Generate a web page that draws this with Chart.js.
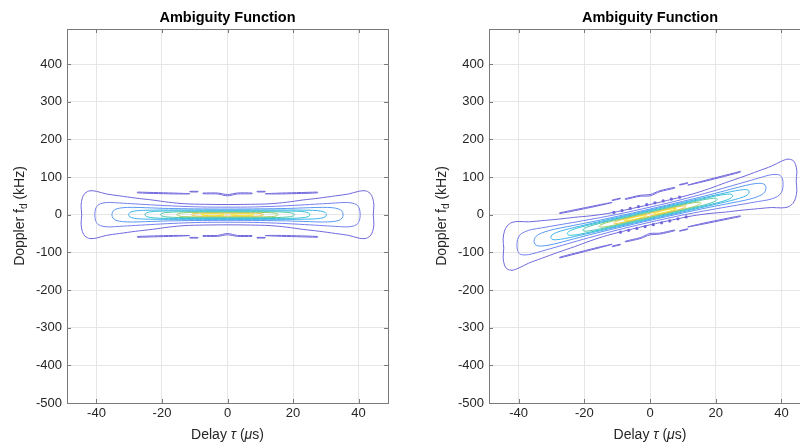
<!DOCTYPE html>
<html>
<head>
<meta charset="utf-8">
<script src="https://cdn.jsdelivr.net/npm/chart.js@4.4.0/dist/chart.umd.min.js"></script>
<style>
  html, body { margin: 0; padding: 0; background: #fff; overflow: hidden; width: 800px; height: 445px; }
  canvas { position: absolute; top: 0; }
  #leftChart { left: 0; }
  #rightChart { left: 420px; }
</style>
</head>
<body>
<canvas id="leftChart" width="400" height="445"></canvas>
<canvas id="rightChart" width="400" height="445"></canvas>
<script>
// axis ranges and ticks (delay in us, doppler in kHz)
const delayRange = [-49, 49];
const dopplerRange = [-500, 493];
const delayTicks = [-40, -20, 0, 20, 40];
const dopplerTicks = [-500, -400, -300, -200, -100, 0, 100, 200, 300, 400];

// parula-ish colours, outermost level first
const levelColors = ['#7068dc', '#7480ee', '#5a98f2', '#3fb2ea', '#35c2d4', '#52c8a8', '#a0cc64', '#efc440', '#f6e422'];

// ---- left plot: unmodulated pulse ----
const leftLevel1 = [[-44.5,0],[-44.7,25],[-44.3,45],[-43.5,57],[-42,63.5],[-40,62],[-37,55],[-33,50],[-28,44],[-23,39],[-18,33],[-13,29],[-7,27.5],[0,27],[7,27.5],[13,29],[18,33],[23,39],[28,44],[33,50],[37,55],[40,62],[42,63.5],[43.5,57],[44.3,45],[44.7,25],[44.5,0],
  [44.7,-25],[44.3,-45],[43.5,-57],[42,-63.5],[40,-62],[37,-55],[33,-50],[28,-44],[23,-39],[18,-33],[13,-29],[7,-27.5],[0,-27],[-7,-27.5],[-13,-29],[-18,-33],[-23,-39],[-28,-44],[-33,-50],[-37,-55],[-40,-62],[-42,-63.5],[-43.5,-57],[-44.3,-45],[-44.7,-25],[-44.5,0]];
const leftLevel2 = [[-40.5,0],[-40.3,15],[-39.5,26],[-38,31],[-36,32.5],[-33,31],[-28,28.5],[-22,25.5],[-15,22.5],[-8,20.5],[0,20],[8,20.5],[15,22.5],[22,25.5],[28,28.5],[33,31],[36,32.5],[38,31],[39.5,26],[40.3,15],[40.5,0],
  [40.3,-15],[39.5,-26],[38,-31],[36,-32.5],[33,-31],[28,-28.5],[22,-25.5],[15,-22.5],[8,-20.5],[0,-20],[-8,-20.5],[-15,-22.5],[-22,-25.5],[-28,-28.5],[-33,-31],[-36,-32.5],[-38,-31],[-39.5,-26],[-40.3,-15],[-40.5,0]];
const leftLevel3 = [[-35.3,0],[-35,9],[-34,15],[-32,18.5],[-29,19.5],[-25,18.5],[-18,16.5],[-10,15.5],[0,15],[10,15.5],[18,16.5],[25,18.5],[29,19.5],[32,18.5],[34,15],[35,9],[35.3,0],
  [35,-9],[34,-15],[32,-18.5],[29,-19.5],[25,-18.5],[18,-16.5],[10,-15.5],[0,-15],[-10,-15.5],[-18,-16.5],[-25,-18.5],[-29,-19.5],[-32,-18.5],[-34,-15],[-35,-9],[-35.3,0]];
const leftLevel4 = [[-30.2,0],[-29.8,6],[-28.5,9.5],[-26,11.5],[-20,12.3],[-10,12.5],[0,12.5],[10,12.5],[20,12.3],[26,11.5],[28.5,9.5],[29.8,6],[30.2,0],
  [29.8,-6],[28.5,-9.5],[26,-11.5],[20,-12.3],[10,-12.5],[0,-12.5],[-10,-12.5],[-20,-12.3],[-26,-11.5],[-28.5,-9.5],[-29.8,-6],[-30.2,0]];
const leftLevel5 = [[-25.2,0],[-24.8,4.5],[-23.5,7.5],[-21,9.3],[-15,10],[-5,10.3],[5,10.3],[15,10],[21,9.3],[23.5,7.5],[24.8,4.5],[25.2,0],
  [24.8,-4.5],[23.5,-7.5],[21,-9.3],[15,-10],[5,-10.3],[-5,-10.3],[-15,-10],[-21,-9.3],[-23.5,-7.5],[-24.8,-4.5],[-25.2,0]];
const leftLevel6 = [[-20.5,0],[-20,3.5],[-18.5,6],[-15,7.5],[-7,8],[0,8],[7,8],[15,7.5],[18.5,6],[20,3.5],[20.5,0],
  [20,-3.5],[18.5,-6],[15,-7.5],[7,-8],[0,-8],[-7,-8],[-15,-7.5],[-18.5,-6],[-20,-3.5],[-20.5,0]];
const leftLevel7 = [[-15.5,0],[-15,3],[-13.5,5],[-10,6],[-4,6.2],[4,6.2],[10,6],[13.5,5],[15,3],[15.5,0],
  [15,-3],[13.5,-5],[10,-6],[4,-6.2],[-4,-6.2],[-10,-6],[-13.5,-5],[-15,-3],[-15.5,0]];
const leftLevel8 = [[-11,0],[-10.5,2.5],[-8.5,4],[-5,4.5],[-2,4.2],[0,3.6],[2,4.2],[5,4.5],[8.5,4],[10.5,2.5],[11,0],
  [10.5,-2.5],[8.5,-4],[5,-4.5],[2,-4.2],[0,-3.6],[-2,-4.2],[-5,-4.5],[-8.5,-4],[-10.5,-2.5],[-11,0]];
const leftLevel9a = [[-8,0],[-7,2],[-4.5,2.7],[-2,2],[-1,0],[-2,-2],[-4.5,-2.7],[-7,-2],[-8,0]];
const leftLevel9b = [[1,0],[2,2],[4.5,2.7],[7,2],[8,0],[7,-2],[4.5,-2.7],[2,-2],[1,0]];
// sidelobes
const leftSlivers = [
  [[-27.5,60],[-21,58.5],[-15,57],[-11.5,55.5],[-15,55],[-21,56],[-27.5,58],[-27.5,60]],
  [[27.5,60],[21,58.5],[15,57],[11.5,55.5],[15,55],[21,56],[27.5,58],[27.5,60]],
  [[-27.5,-60],[-21,-58.5],[-15,-57],[-11.5,-55.5],[-15,-55],[-21,-56],[-27.5,-58],[-27.5,-60]],
  [[27.5,-60],[21,-58.5],[15,-57],[11.5,-55.5],[15,-55],[21,-56],[27.5,-58],[27.5,-60]],
  [[-7.5,57.5],[-3,57.5],[0,53.5],[3,57.5],[7.5,57.5],[7.5,55.5],[3,55],[0,50],[-3,55],[-7.5,55.5],[-7.5,57.5]],
  [[-7.5,-57.5],[-3,-57.5],[0,-53.5],[3,-57.5],[7.5,-57.5],[7.5,-55.5],[3,-55],[0,-50],[-3,-55],[-7.5,-55.5],[-7.5,-57.5]],
  [[-11.5,62],[-9,62],[-9,60.5],[-11.5,60.5],[-11.5,62]],
  [[9,62],[11.5,62],[11.5,60.5],[9,60.5],[9,62]],
  [[-11.5,-62],[-9,-62],[-9,-60.5],[-11.5,-60.5],[-11.5,-62]],
  [[9,-62],[11.5,-62],[11.5,-60.5],[9,-60.5],[9,-62]]
];

// ---- right plot: LFM pulse (sheared) ----
const rightLevel1 = [[-44.5,-89],[-44.7,-64.4],[-44.3,-43.6],[-43.5,-30],[-42,-20.5],[-40,-18],[-37,-19],[-33,-16],[-28,-12],[-23,-7],[-18,-3],[-13,3],[-7,13.5],[0,27],[7,41.5],[13,55],[18,69],[23,85],[28,100],[33,116],[37,129],[40,142],[42,147.5],[43.5,144],[44.3,133.6],[44.7,114.4],[44.5,89],
  [44.7,64.4],[44.3,43.6],[43.5,30],[42,20.5],[40,18],[37,19],[33,16],[28,12],[23,7],[18,3],[13,-3],[7,-13.5],[0,-27],[-7,-41.5],[-13,-55],[-18,-69],[-23,-85],[-28,-100],[-33,-116],[-37,-129],[-40,-142],[-42,-147.5],[-43.5,-144],[-44.3,-133.6],[-44.7,-114.4],[-44.5,-89]];
const rightLevel2 = [[-40.5,-81],[-40.3,-65.6],[-39.5,-53],[-38,-45],[-36,-39.5],[-33,-35],[-28,-27.5],[-22,-18.5],[-15,-7.5],[-8,4.5],[0,20],[8,36.5],[15,52.5],[22,69.5],[28,84.5],[33,97],[36,104.5],[38,107],[39.5,105],[40.3,95.6],[40.5,81],
  [40.3,65.6],[39.5,53],[38,45],[36,39.5],[33,35],[28,27.5],[22,18.5],[15,7.5],[8,-4.5],[0,-20],[-8,-36.5],[-15,-52.5],[-22,-69.5],[-28,-84.5],[-33,-97],[-36,-104.5],[-38,-107],[-39.5,-105],[-40.3,-95.6],[-40.5,-81]];
const rightLevel3 = [[-35.3,-70.6],[-35,-61],[-34,-53],[-32,-45.5],[-29,-38.5],[-25,-31.5],[-18,-19.5],[-10,-4.5],[0,15],[10,35.5],[18,52.5],[25,68.5],[29,77.5],[32,82.5],[34,83],[35,79],[35.3,70.6],
  [35,61],[34,53],[32,45.5],[29,38.5],[25,31.5],[18,19.5],[10,4.5],[0,-15],[-10,-35.5],[-18,-52.5],[-25,-68.5],[-29,-77.5],[-32,-82.5],[-34,-83],[-35,-79],[-35.3,-70.6]];
const rightLevel4 = [[-30.2,-60.4],[-29.8,-53.6],[-28.5,-47.5],[-26,-40.5],[-20,-27.7],[-10,-7.5],[0,12.5],[10,32.5],[20,52.3],[26,63.5],[28.5,66.5],[29.8,65.6],[30.2,60.4],
  [29.8,53.6],[28.5,47.5],[26,40.5],[20,27.7],[10,7.5],[0,-12.5],[-10,-32.5],[-20,-52.3],[-26,-63.5],[-28.5,-66.5],[-29.8,-65.6],[-30.2,-60.4]];
const rightLevel5 = [[-25.2,-50.4],[-24.8,-45.1],[-23.5,-39.5],[-21,-32.7],[-15,-20],[-5,0.3],[5,20.3],[15,40],[21,51.3],[23.5,54.5],[24.8,54.1],[25.2,50.4],
  [24.8,45.1],[23.5,39.5],[21,32.7],[15,20],[5,-0.3],[-5,-20.3],[-15,-40],[-21,-51.3],[-23.5,-54.5],[-24.8,-54.1],[-25.2,-50.4]];
const rightLevel6 = [[-20.5,-41],[-20,-36.5],[-18.5,-31],[-15,-22.5],[-7,-6],[0,8],[7,22],[15,37.5],[18.5,43],[20,43.5],[20.5,41],
  [20,36.5],[18.5,31],[15,22.5],[7,6],[0,-8],[-7,-22],[-15,-37.5],[-18.5,-43],[-20,-43.5],[-20.5,-41]];
const rightLevel7 = [[-15.5,-31],[-15,-27],[-13.5,-22],[-10,-14],[-4,-1.8],[4,14.2],[10,26],[13.5,32],[15,33],[15.5,31],
  [15,27],[13.5,22],[10,14],[4,1.8],[-4,-14.2],[-10,-26],[-13.5,-32],[-15,-33],[-15.5,-31]];
const rightLevel8 = [[-11,-22],[-10.5,-18.5],[-8.5,-13],[-5,-5.5],[-2,0.2],[0,3.6],[2,8.2],[5,14.5],[8.5,21],[10.5,23.5],[11,22],
  [10.5,18.5],[8.5,13],[5,5.5],[2,-0.2],[0,-3.6],[-2,-8.2],[-5,-14.5],[-8.5,-21],[-10.5,-23.5],[-11,-22]];
const rightLevel9a = [[-8,-16],[-7,-12],[-4.5,-6.3],[-2,-2],[-1,-2],[-2,-6],[-4.5,-11.7],[-7,-16],[-8,-16]];
const rightLevel9b = [[1,2],[2,6],[4.5,11.7],[7,16],[8,16],[7,12],[4.5,6.3],[2,2],[1,2]];
const rightSlivers = [
  [[-27.5,5],[-21,16.5],[-15,27],[-11.5,32.5],[-15,25],[-21,14],[-27.5,3],[-27.5,5]],
  [[27.5,115],[21,100.5],[15,87],[11.5,78.5],[15,85],[21,98],[27.5,113],[27.5,115]],
  [[-27.5,-115],[-21,-100.5],[-15,-87],[-11.5,-78.5],[-15,-85],[-21,-98],[-27.5,-113],[-27.5,-115]],
  [[27.5,-5],[21,-16.5],[15,-27],[11.5,-32.5],[15,-25],[21,-14],[27.5,-3],[27.5,-5]],
  [[-7.5,42.5],[-3,51.5],[0,53.5],[3,63.5],[7.5,72.5],[7.5,70.5],[3,61],[0,50],[-3,49],[-7.5,40.5],[-7.5,42.5]],
  [[-7.5,-72.5],[-3,-63.5],[0,-53.5],[3,-51.5],[7.5,-42.5],[7.5,-40.5],[3,-49],[0,-50],[-3,-61],[-7.5,-70.5],[-7.5,-72.5]],
  [[-11.5,39],[-9,44],[-9,42.5],[-11.5,37.5],[-11.5,39]],
  [[9,80],[11.5,85],[11.5,83.5],[9,78.5],[9,80]],
  [[-11.5,-85],[-9,-80],[-9,-78.5],[-11.5,-83.5],[-11.5,-85]],
  [[9,-44],[11.5,-39],[11.5,-37.5],[9,-42.5],[9,-44]]
];
// small islands along the edges of the sheared main lobe
const rightIslands = [[-11,6],[-8.5,11],[-6,16.5],[-3.5,21.5],[-1,26.5],[1.5,31.5],[4,36.5],[6.5,41.5],[9,46.5],
  [-9,-46.5],[-6.5,-41.5],[-4,-36.5],[-1.5,-31.5],[1,-26.5],[3.5,-21.5],[6,-16.5],[8.5,-11],[11,-6]];

const FONT = "'Liberation Sans', Arial, Helvetica, sans-serif";

function toXY(pts) {
  return pts.map(p => ({ x: p[0], y: p[1] }));
}

function contourSet(levels, slivers) {
  const sets = [];
  slivers.forEach(s => sets.push({ pts: s, level: 0 }));
  levels.forEach((lv, i) => {
    lv.forEach(pts => sets.push({ pts: pts, level: i }));
  });
  return sets.map(s => ({
    data: toXY(s.pts),
    showLine: true,
    borderColor: levelColors[s.level],
    borderWidth: 1,
    pointRadius: 0,
    tension: 0.3,
    fill: false
  }));
}

// draws the box, inward ticks and the text labels matlab-style
const axesDecor = {
  id: 'axesDecor',
  afterDraw(chart) {
    const ctx = chart.ctx;
    const a = chart.chartArea;
    const xs = chart.scales.x, ys = chart.scales.y;
    ctx.save();
    ctx.strokeStyle = '#7a7a7a';
    ctx.lineWidth = 1;
    ctx.strokeRect(Math.round(a.left) + 0.5, Math.round(a.top) + 0.5, Math.round(a.right - a.left), Math.round(a.bottom - a.top));
    ctx.beginPath();
    xs.ticks.forEach(t => {
      const px = Math.round(xs.getPixelForValue(t.value)) + 0.5;
      ctx.moveTo(px, a.bottom); ctx.lineTo(px, a.bottom - 4);
      ctx.moveTo(px, a.top); ctx.lineTo(px, a.top + 4);
    });
    ys.ticks.forEach(t => {
      const py = Math.round(ys.getPixelForValue(t.value)) + 0.5;
      ctx.moveTo(a.left, py); ctx.lineTo(a.left + 4, py);
      ctx.moveTo(a.right, py); ctx.lineTo(a.right - 4, py);
    });
    ctx.stroke();

    const cx = (a.left + a.right) / 2;
    const cy = (a.top + a.bottom) / 2;

    // title
    ctx.fillStyle = '#000';
    ctx.font = 'bold 14.5px ' + FONT;
    ctx.textAlign = 'center';
    ctx.textBaseline = 'middle';
    ctx.fillText('Ambiguity Function', cx, a.top - 11);

    // x label: Delay τ (μs)
    ctx.fillStyle = '#262626';
    const xParts = [['Delay ', ''], ['\u03C4', 'italic '], [' (', ''], ['\u03BC', 'italic '], ['s)', '']];
    drawParts(ctx, xParts, cx, a.bottom + 32, 14);

    // y label: Doppler f_d (kHz)
    ctx.save();
    ctx.translate(a.left - 47, cy);
    ctx.rotate(-Math.PI / 2);
    ctx.textAlign = 'left';
    ctx.font = '14px ' + FONT;
    const w1 = ctx.measureText('Doppler f').width;
    ctx.font = '10px ' + FONT;
    const w2 = ctx.measureText('d').width;
    ctx.font = '14px ' + FONT;
    const w3 = ctx.measureText(' (kHz)').width;
    let x0 = -(w1 + w2 + w3) / 2;
    ctx.fillText('Doppler f', x0, 0);
    ctx.font = '10px ' + FONT;
    ctx.fillText('d', x0 + w1, 4);
    ctx.font = '14px ' + FONT;
    ctx.fillText(' (kHz)', x0 + w1 + w2, 0);
    ctx.restore();
    ctx.restore();
  }
};

function drawParts(ctx, parts, cx, y, size) {
  ctx.textAlign = 'left';
  ctx.textBaseline = 'middle';
  let total = 0;
  parts.forEach(p => { ctx.font = p[1] + size + 'px ' + FONT; total += ctx.measureText(p[0]).width; });
  let x = cx - total / 2;
  parts.forEach(p => {
    ctx.font = p[1] + size + 'px ' + FONT;
    ctx.fillText(p[0], x, y);
    x += ctx.measureText(p[0]).width;
  });
}

function makeOptions(yAxisWidth, rightPad) {
  const tickFont = { family: FONT, size: 13 };
  return {
    responsive: false,
    animation: false,
    layout: { padding: { top: 29, right: rightPad, bottom: 0, left: 0 } },
    plugins: { legend: { display: false }, tooltip: { enabled: false } },
    scales: {
      x: {
        type: 'linear',
        min: delayRange[0], max: delayRange[1],
        afterFit: s => { s.height = 42; },
        afterBuildTicks: s => { s.ticks = delayTicks.map(v => ({ value: v })); },
        ticks: { color: '#262626', font: tickFont, padding: 3, maxRotation: 0, autoSkip: false },
        grid: { color: '#e6e6e6', drawTicks: false },
        border: { display: false }
      },
      y: {
        type: 'linear',
        min: dopplerRange[0], max: dopplerRange[1],
        afterFit: s => { s.width = yAxisWidth; },
        afterBuildTicks: s => { s.ticks = dopplerTicks.map(v => ({ value: v })); },
        ticks: { color: '#262626', font: tickFont, padding: 5, autoSkip: false },
        grid: { color: '#e6e6e6', drawTicks: false },
        border: { display: false }
      }
    }
  };
}

new Chart(document.getElementById('leftChart'), {
  type: 'scatter',
  data: {
    datasets: contourSet([[leftLevel1], [leftLevel2], [leftLevel3], [leftLevel4], [leftLevel5], [leftLevel6], [leftLevel7], [leftLevel8], [leftLevel9a, leftLevel9b]], leftSlivers)
  },
  options: makeOptions(67, 12),
  plugins: [axesDecor]
});

const rightSets = contourSet([[rightLevel1], [rightLevel2], [rightLevel3], [rightLevel4], [rightLevel5], [rightLevel6], [rightLevel7], [rightLevel8], [rightLevel9a, rightLevel9b]], rightSlivers);
rightSets.push({
  data: toXY(rightIslands),
  showLine: false,
  pointRadius: 1.6,
  pointBorderWidth: 0,
  backgroundColor: '#7068dc'
});

new Chart(document.getElementById('rightChart'), {
  type: 'scatter',
  data: { datasets: rightSets },
  options: makeOptions(69, 9),
  plugins: [axesDecor]
});
</script>
</body>
</html>
